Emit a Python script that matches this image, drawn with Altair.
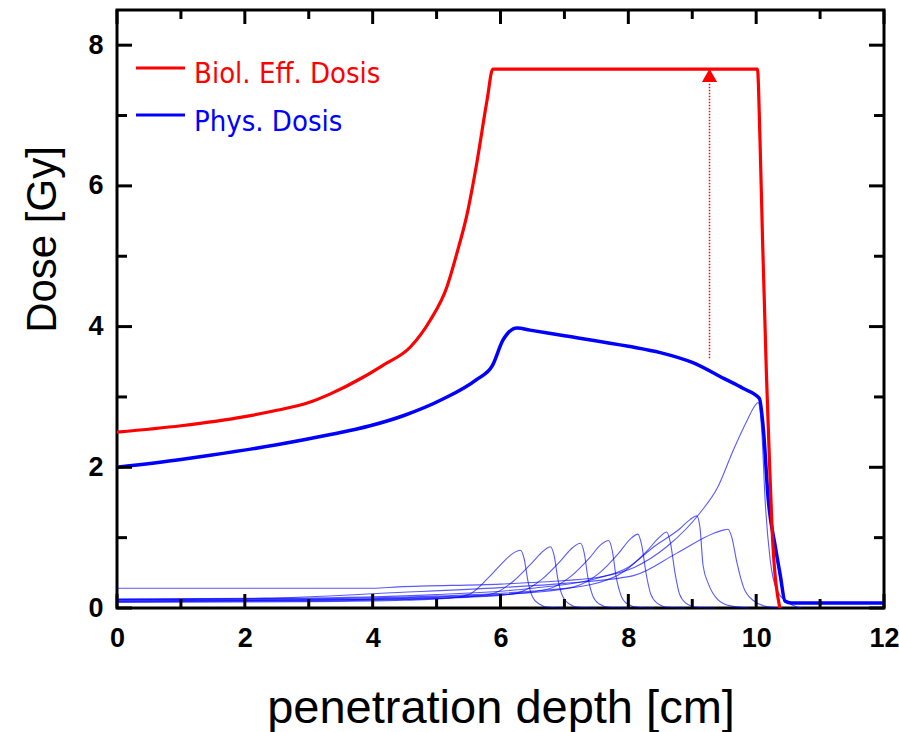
import altair as alt
import pandas as pd

# ---------------- data ----------------
bio_depth = [0, 1, 2, 2.5, 3, 3.33, 3.85, 4.16, 4.59, 4.9, 5.16, 5.32, 5.48, 5.63, 5.79, 5.88,
             10.02, 10.06, 10.1, 10.16, 10.2, 10.25, 10.37]
bio_dose = [2.50, 2.59, 2.72, 2.81, 2.92, 3.04, 3.28, 3.45, 3.71, 4.09, 4.56, 5.05, 5.61, 6.33, 7.22, 7.66,
            7.66, 6.65, 5.23, 3.34, 2.30, 1.10, 0.0]

phys_depth = [0, 1, 1.46, 2.5, 3.28, 3.96, 4.5, 5.1, 5.63, 5.87, 6.04, 6.26, 6.46, 7, 8, 8.5, 9, 9.5, 9.8,
              10.05, 10.11, 10.19, 10.3, 10.38, 10.45, 10.55, 12]
phys_dose = [2.0, 2.11, 2.17, 2.32, 2.455, 2.59, 2.74, 2.97, 3.25, 3.44, 3.81, 3.98, 3.95, 3.87, 3.72, 3.63,
             3.49, 3.26, 3.12, 2.98, 2.57, 1.53, 0.87, 0.45, 0.10, 0.07, 0.07]

# individual Bragg peaks (thin lines)
p1_depth = [0, 3, 4.5, 5.2, 5.5, 5.8, 6.05, 6.2, 6.31, 6.37, 6.43, 6.5, 6.6, 6.75, 7.0]
p1_dose = [0.08, 0.09, 0.11, 0.14, 0.19, 0.42, 0.66, 0.78, 0.82, 0.70, 0.38, 0.16, 0.06, 0.01, 0]
p2_depth = [0, 3, 4.5, 5.5, 5.9, 6.2, 6.5, 6.67, 6.78, 6.84, 6.9, 6.97, 7.07, 7.22, 7.5]
p2_dose = [0.09, 0.10, 0.12, 0.16, 0.21, 0.38, 0.65, 0.81, 0.87, 0.74, 0.40, 0.17, 0.06, 0.01, 0]
p3_depth = [0, 3, 5, 6, 6.35, 6.65, 6.95, 7.13, 7.25, 7.31, 7.37, 7.44, 7.54, 7.7, 8.0]
p3_dose = [0.10, 0.11, 0.14, 0.18, 0.24, 0.41, 0.68, 0.86, 0.92, 0.78, 0.42, 0.18, 0.06, 0.01, 0]
p4_depth = [0, 3, 5, 6.2, 6.75, 7.1, 7.4, 7.57, 7.69, 7.75, 7.81, 7.88, 7.98, 8.15, 8.4]
p4_dose = [0.10, 0.11, 0.15, 0.20, 0.27, 0.45, 0.72, 0.90, 0.96, 0.81, 0.44, 0.19, 0.06, 0.01, 0]
p5_depth = [0, 3, 5, 6.5, 7.15, 7.55, 7.85, 8.03, 8.15, 8.21, 8.28, 8.35, 8.45, 8.62, 8.9]
p5_dose = [0.11, 0.12, 0.16, 0.22, 0.30, 0.50, 0.78, 0.98, 1.05, 0.89, 0.48, 0.20, 0.07, 0.01, 0]
p6_depth = [0, 3, 5, 6.5, 7.4, 7.95, 8.3, 8.48, 8.6, 8.66, 8.73, 8.8, 8.9, 9.07, 9.35]
p6_dose = [0.12, 0.13, 0.17, 0.24, 0.33, 0.53, 0.82, 1.00, 1.08, 0.92, 0.50, 0.20, 0.07, 0.01, 0]
p7_depth = [0, 3, 5, 6.5, 7.5, 8.0, 8.4, 8.81, 8.97, 9.07, 9.12, 9.17, 9.25, 9.4, 9.6, 9.9]
p7_dose = [0.12, 0.14, 0.19, 0.28, 0.42, 0.58, 0.87, 1.13, 1.26, 1.31, 1.15, 0.60, 0.35, 0.12, 0.03, 0]
p8_depth = [0, 2.3, 4.4, 6, 7, 8.08, 8.76, 9.33, 9.5, 9.56, 9.62, 9.7, 9.8, 9.95, 10.17, 10.4]
p8_dose = [0.13, 0.14, 0.22, 0.29, 0.35, 0.46, 0.78, 1.06, 1.11, 1.12, 1.00, 0.64, 0.30, 0.11, 0.02, 0]
p9_depth = [0, 4.0, 4.4, 6, 7, 7.56, 8.1, 8.6, 9.12, 9.4, 9.64, 9.86, 9.97, 10.03, 10.09, 10.14,
            10.22, 10.32, 10.48, 10.7]
p9_dose = [0.28, 0.28, 0.30, 0.34, 0.39, 0.44, 0.58, 0.87, 1.35, 1.72, 2.24, 2.67, 2.86, 2.92, 2.48, 1.53,
           0.68, 0.26, 0.09, 0]

# arrow (RBE gain)
arrow_depth = [9.27]
arrow_from = [3.55]
arrow_to = [7.47]
arrow_head = [7.57]

# legend
legend_names = ["Biol. Eff. Dosis", "Phys. Dosis"]
legend_colors = ["#ff0000", "#0000ff"]

# axis ticks
x_major = [0, 2, 4, 6, 8, 10, 12]
x_minor = [1, 3, 5, 7, 9, 11]
y_major = [0, 2, 4, 6, 8]
y_minor = [1, 3, 5, 7]

# ---------------- build ----------------
W, H = 767, 598
XS = alt.Scale(domain=[0, 12], nice=False, zero=False)
YS = alt.Scale(domain=[0, 8.5], nice=False, zero=False)
TICK_FONT = "Liberation Sans, Arial, sans-serif"
TITLE_FONT = "Liberation Sans, Arial, sans-serif"

x_axis = alt.Axis(values=x_major, format="d", domain=False, ticks=False, tickSize=0, grid=False,
                  labelFont=TICK_FONT, labelFontSize=27, labelFontWeight="bold", labelColor="black",
                  labelPadding=17, labelFlush=False,
                  title="penetration depth [cm]", titleFont=TITLE_FONT, titleFontSize=47,
                  titleFontWeight="normal", titleColor="black", titleY=114, titleBaseline="alphabetic")
y_axis = alt.Axis(values=y_major, format="d", domain=False, ticks=False, tickSize=0, grid=False,
                  labelFont=TICK_FONT, labelFontSize=27, labelFontWeight="bold", labelColor="black",
                  labelPadding=14, labelFlush=False,
                  title="Dose [Gy]", titleFont=TITLE_FONT, titleFontSize=42, titleFontWeight="normal",
                  titleColor="black", titleAngle=270, titleX=-62, titleY=229,
                  titleBaseline="alphabetic", titleAlign="center")


def X(field):
    return alt.X(field, scale=XS, axis=x_axis)


def Y(field):
    return alt.Y(field, scale=YS, axis=y_axis)


peaks = [(p1_depth, p1_dose), (p2_depth, p2_dose), (p3_depth, p3_dose), (p4_depth, p4_dose),
         (p5_depth, p5_dose), (p6_depth, p6_dose), (p7_depth, p7_dose), (p8_depth, p8_dose),
         (p9_depth, p9_dose)]
rows = []
for i, (d, v) in enumerate(peaks):
    for a, b in zip(d, v):
        rows.append({"depth": a, "dose": b, "peak": i + 1})
thin_df = pd.DataFrame(rows)

bio_df = pd.DataFrame({"depth": bio_depth, "dose": bio_dose})
phys_df = pd.DataFrame({"depth": phys_depth, "dose": phys_dose})

thin = alt.Chart(thin_df).mark_line(color="#0000ff", strokeWidth=1.1, opacity=0.65,
                                    interpolate="monotone").encode(
    x=X("depth:Q"), y=Y("dose:Q"), detail="peak:N")

phys = alt.Chart(phys_df).mark_line(color="#0000ff", strokeWidth=3.5, interpolate="monotone").encode(
    x=X("depth:Q"), y=Y("dose:Q"))
bio = alt.Chart(bio_df).mark_line(color="#ff0000", strokeWidth=3.2, interpolate="monotone").encode(
    x=X("depth:Q"), y=Y("dose:Q"))

arrow_df = pd.DataFrame({"depth": arrow_depth, "lo": arrow_from, "hi": arrow_to, "head": arrow_head})
arrow_line = alt.Chart(arrow_df).mark_rule(color="#ff0000", strokeWidth=1.5, strokeDash=[1.5, 1.5]).encode(
    x=X("depth:Q"), y=Y("lo:Q"), y2="hi:Q")
arrow_tip = alt.Chart(arrow_df).mark_point(shape="triangle-up", filled=True, color="#ff0000",
                                           size=230, opacity=1).encode(
    x=X("depth:Q"), y=Y("head:Q"))

leg_df = pd.DataFrame({"name": legend_names, "color": legend_colors, "row": [0, 1]})
leg_lines = []
leg_texts = []
for i in range(2):
    sub = leg_df[leg_df.row == i]
    leg_lines.append(alt.Chart(sub).mark_rule(strokeWidth=3, color=legend_colors[i]).encode(
        x=alt.value(19), x2=alt.value(68), y=alt.value(58 + 47 * i)))
    leg_texts.append(alt.Chart(sub).mark_text(align="left", baseline="alphabetic",
                                              font="DejaVu Sans Condensed, DejaVu Sans", fontSize=29,
                                              color=legend_colors[i]).encode(
        x=alt.value(77), y=alt.value(73 + 48 * i), text="name:N"))


def xticks(vals, length):
    df = pd.DataFrame({"v": vals})
    bot = alt.Chart(df).mark_rule(color="black", strokeWidth=3).encode(
        x=X("v:Q"), y=alt.value(H), y2=alt.value(H - length))
    top = alt.Chart(df).mark_rule(color="black", strokeWidth=3).encode(
        x=X("v:Q"), y=alt.value(0), y2=alt.value(length))
    return [bot, top]


def yticks(vals, length):
    df = pd.DataFrame({"v": vals})
    left = alt.Chart(df).mark_rule(color="black", strokeWidth=3).encode(
        y=Y("v:Q"), x=alt.value(0), x2=alt.value(length))
    right = alt.Chart(df).mark_rule(color="black", strokeWidth=3).encode(
        y=Y("v:Q"), x=alt.value(W), x2=alt.value(W - length))
    return [left, right]


tick_layers = xticks(x_major, 14) + xticks(x_minor, 9) + yticks(y_major, 15) + yticks(y_minor, 10)

chart = alt.layer(
    thin, phys, bio, arrow_line, arrow_tip, *leg_lines, *leg_texts, *tick_layers
).properties(
    width=W, height=H,
    autosize=alt.AutoSizeParams(type="none"),
    padding={"left": 117, "top": 10, "right": 15, "bottom": 124},
    background="white",
).configure_view(
    stroke="black", strokeWidth=3
)

chart.save("out.html", embed_options={"renderer": "svg", "actions": False})
